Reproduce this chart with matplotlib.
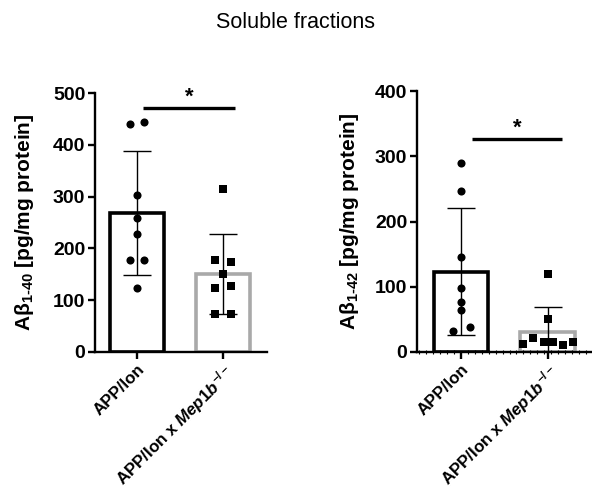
import numpy as np
import matplotlib
matplotlib.use("Agg")
import matplotlib.pyplot as plt
from matplotlib.ticker import MultipleLocator

## fonts: Arial look-alike, bold everywhere
plt.rcParams["font.family"] = "Liberation Sans"
plt.rcParams["font.weight"] = "bold"
plt.rcParams["axes.labelweight"] = "bold"
plt.rcParams["mathtext.fontset"] = "custom"
plt.rcParams["mathtext.rm"] = "Liberation Sans:bold"
plt.rcParams["mathtext.it"] = "Liberation Sans:bold:italic"
plt.rcParams["mathtext.bf"] = "Liberation Sans:bold"

#### data
groups = ["APP/lon", r"APP/lon x $\mathit{Mep1b}^{\mathregular{-/-}}$"]

## A-beta 1-40
ab40_wt = [440, 445, 304, 258, 228, 177, 177, 123]
ab40_wt_dx = [-0.085, 0.085, 0, 0, 0, -0.085, 0.085, 0]
ab40_ko = [314, 178, 174, 151, 123, 128, 73, 74]
ab40_ko_dx = [0, -0.09, 0.09, 0, -0.09, 0.09, -0.09, 0.09]
ab40_mean = [268, 150]
ab40_sd = [120, 77]

## A-beta 1-42
ab42_wt = [290, 247, 145, 98, 77, 65, 32, 39]
ab42_wt_dx = [0, 0, 0, 0, 0, 0, -0.09, 0.1]
ab42_ko = [119, 50, 12, 21, 15, 16, 10, 15]
ab42_ko_dx = [0, 0, -0.28, -0.165, -0.046, 0.065, 0.18, 0.295]
ab42_mean = [123, 30]
ab42_sd = [97, 39]

fig = plt.figure(figsize=(5.92, 4.95), dpi=100)
fig.text(0.5, 0.955, "Soluble fractions", ha="center", va="center",
         fontsize=15.5, fontweight="normal")

ax1 = fig.add_axes([0.1605, 0.289, 0.2905, 0.523])
ax2 = fig.add_axes([0.7044, 0.289, 0.2956, 0.527])


def draw_panel(ax, wt, wt_dx, ko, ko_dx, mean, sd, ymax, ylabel, sig_x, sig_y, pad):
    x = np.arange(2)
    ax.bar(x, mean, width=0.63, color="white",
           edgecolor=["black", "#a9a9a9"], linewidth=2.6, zorder=1)
    ax.errorbar(x, mean, yerr=sd, fmt="none", ecolor="black",
                elinewidth=1.0, capsize=10, capthick=1.0, zorder=2)
    ax.scatter(x[0] + np.array(wt_dx), wt, marker="o", s=34,
               color="black", zorder=3, linewidths=0)
    ax.scatter(x[1] + np.array(ko_dx), ko, marker="s", s=32,
               color="black", zorder=3, linewidths=0)

    ## significance bar
    ax.plot(sig_x, [sig_y, sig_y], color="black", lw=2.4, clip_on=False,
            solid_capstyle="butt")
    ax.text(np.mean(sig_x), sig_y + ymax * 0.002, "*", ha="center", va="bottom",
            fontsize=16)

    ax.set_ylim(0, ymax)
    ax.yaxis.set_major_locator(MultipleLocator(100))
    ax.spines["top"].set_visible(False)
    ax.spines["right"].set_visible(False)
    ax.spines["left"].set_linewidth(1.7)
    ax.spines["bottom"].set_linewidth(1.7)
    ax.tick_params(width=1.7, length=5, labelsize=14, pad=2)
    ax.set_xticks(x)
    ax.set_xticklabels(groups, rotation=45, ha="right",
                       rotation_mode="anchor", fontsize=12.2)
    ax.set_ylabel(ylabel, fontsize=15, labelpad=pad)


draw_panel(ax1, ab40_wt, ab40_wt_dx, ab40_ko, ab40_ko_dx, ab40_mean, ab40_sd,
           500, "A\u03b2$_{\\mathregular{1\u201040}}$ [pg/mg protein]",
           [0.07, 1.14], 471, 12)
ax1.set_xlim(-0.49, 1.51)

draw_panel(ax2, ab42_wt, ab42_wt_dx, ab42_ko, ab42_ko_dx, ab42_mean, ab42_sd,
           400, "A\u03b2$_{\\mathregular{1\u201042}}$ [pg/mg protein]",
           [0.13, 1.17], 326, 10)
ax2.set_xlim(-0.506, 1.51)
## the little dotted ticks along the right panel's x axis
ax2.xaxis.set_minor_locator(MultipleLocator(0.08))
ax2.tick_params(axis="x", which="minor", direction="inout", length=3, width=0.8)

plt.savefig("out.png", dpi=100)
